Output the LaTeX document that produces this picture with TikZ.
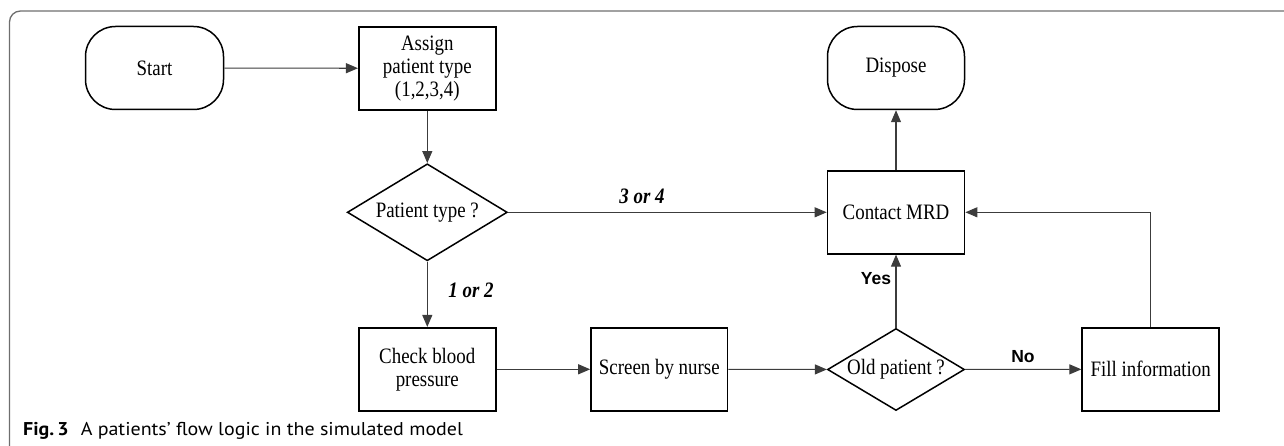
\documentclass[tikz,border=0pt]{standalone}
\usepackage{fontspec}
\usetikzlibrary{shapes.geometric,arrows.meta}
\newfontfamily\boxfont[FakeStretch=0.86]{Liberation Serif}
\newfontfamily\lblfont{Liberation Sans}
\newfontfamily\capfont[FakeStretch=1.08]{PT Sans}
\definecolor{framegray}{HTML}{6E6E6E}
\definecolor{linegray}{HTML}{3C3C3C}
\tikzset{
  boxtext/.style={font=\boxfont\fontsize{22}{23}\selectfont, align=center, text=black},
  proc/.style={boxtext, draw=black, line width=1.7pt, rectangle, inner sep=0pt,
    minimum width=137pt, minimum height=83pt},
  terminal/.style={boxtext, draw=black, line width=1.5pt, rectangle, rounded corners=30pt,
    inner sep=0pt, minimum width=138pt, minimum height=83pt},
  decision/.style={boxtext, draw=black, line width=1.5pt, diamond, inner sep=0pt},
  flow/.style={draw=linegray, line width=1.1pt, -{Triangle[length=12pt,width=10pt]}},
  branch/.style={font=\boxfont\fontsize{22}{23}\selectfont\bfseries\itshape, text=black},
  answer/.style={font=\lblfont\fontsize{17.5}{18}\selectfont\bfseries, text=black},
  captext/.style={font=\capfont\fontsize{18.5}{21}\selectfont, text=black},
}
\begin{document}
\begin{tikzpicture}[x=1pt,y=-1pt]
\useasboundingbox (0,0) rectangle (1284,446);
% panel frame
\draw[framegray, line width=1.3pt, rounded corners=11pt] (9.5,450) -- (9.5,11) -- (1290,11);

% nodes
\node[terminal] (start)   at (154.5,68)   {Start};
\node[proc]     (assign)  at (427.3,68.3) {Assign\\patient type\\(1,2,3,4)};
\node[decision, aspect=1.65, minimum width=160pt, minimum height=97pt] (ptype) at (427.3,212.3) {Patient type ?};
\node[proc]     (check)   at (427.3,369.3) {Check blood\\pressure};
\node[proc, minimum width=136.5pt] (screen) at (659.3,369.3) {Screen by nurse};
\node[decision, aspect=1.67, minimum width=137pt, minimum height=82pt] (old) at (896,369.5) {Old patient ?};
\node[proc]     (fill)    at (1150.7,369.3) {Fill information};
\node[proc]     (contact) at (896,212.3)  {Contact MRD};
\node[terminal, minimum width=137pt] (dispose) at (896,68) {Dispose};

% connectors
\draw[flow] (start) -- (assign);
\draw[flow] (assign) -- (ptype);
\draw[flow] (ptype) -- (contact);
\draw[flow] (ptype) -- (check);
\draw[flow] (check) -- (screen);
\draw[flow] (screen) -- (old);
\draw[flow] (old) -- (contact);
\draw[flow] (old) -- (fill);
\draw[flow] (fill.north) |- (contact.east);
\draw[flow] (contact) -- (dispose);

% branch labels
\node[branch] (l34) at (642,196) {3 or 4};
\node[branch] (l12) at (471,290) {1 or 2};
\node[answer] (lyes) at (876,279) {Yes};
\node[answer] (lno)  at (1023,357) {No};

% caption
\node[captext, anchor=base west, inner sep=0pt] (caption) at (23,435.7)
  {\textbf{Fig.\,3}\hspace{12pt}A patients’ flow logic in the simulated model};
\end{tikzpicture}
\end{document}
